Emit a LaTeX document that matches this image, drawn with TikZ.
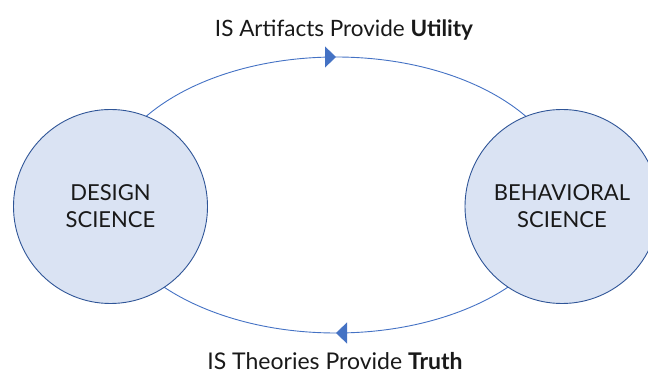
\documentclass[tikz,border=0pt]{standalone}
\usepackage{fontspec}
\setmainfont{Lato}
\usetikzlibrary{arrows.meta,decorations.markings,calc}
\definecolor{cfill}{HTML}{DAE3F3}
\definecolor{cedge}{HTML}{2F5597}
\definecolor{cline}{HTML}{4472C4}
\tikzset{
  sci/.style={circle,draw=cedge,line width=0.9pt,fill=cfill,minimum size=194pt,inner sep=0pt,
    align=center,font=\fontsize{22}{27}\selectfont,text=black!90},
  cyc/.style={draw=cline,line width=0.9pt,postaction={decorate},
    decoration={markings,mark=at position 0.5 with {\arrowreversed[cline]{Triangle[width=21pt,length=11pt]}}}},
  lbl/.style={font=\fontsize{22.5}{27}\selectfont,text=black!90,inner sep=0pt,anchor=base,text depth=0pt}
}
\begin{document}
\begin{tikzpicture}[x=1pt,y=-1pt]
\useasboundingbox (0,0) rectangle (648,374);
\clip (0,0) rectangle (648,374);
\coordinate (c) at (336,195);
\draw[cyc] ($(c)+(180:231 and 138)$) arc[start angle=180,end angle=0,x radius=231,y radius=138];
\draw[cyc] ($(c)+(0:231 and 138)$) arc[start angle=0,end angle=-180,x radius=231,y radius=138];
\node[sci] (design) at (110.5,206.5) {DESIGN\\SCIENCE};
\node[sci] (behav) at (562,206.5) {BEHAVIORAL\\SCIENCE};
\node[lbl] (top) at (344,37) {IS Artifacts Provide \textbf{Utility}};
\node[lbl,font=\fontsize{23}{27}\selectfont] (bot) at (335,369) {IS Theories Provide \textbf{Truth}};
\end{tikzpicture}
\end{document}
